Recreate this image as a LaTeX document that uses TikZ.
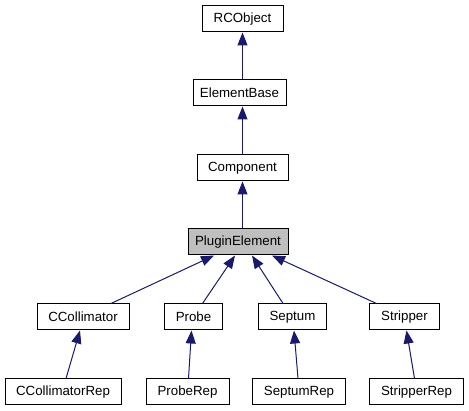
\documentclass[tikz,border=0pt]{standalone}
\usepackage{fontspec}
\setmainfont{Liberation Sans}
\usetikzlibrary{arrows.meta}
\definecolor{edgeblue}{HTML}{191970}
\definecolor{boxgray}{HTML}{BFBFBF}
\tikzset{
  cls/.style={draw=black, line width=1pt, fill=white, minimum height=26pt, inner sep=0pt,
    font=\fontsize{13.3}{16}\selectfont},
  edge/.style={draw=edgeblue, line width=1pt, -{Triangle[length=13pt,width=10pt]}},
}
\begin{document}
\begin{tikzpicture}[x=1pt,y=-1pt]
\useasboundingbox (0,0) rectangle (469,411);
\node[cls, minimum width=81pt] (rc) at (242.5,19) {RCObject};
\node[cls, minimum width=93pt] (eb) at (239.5,93) {ElementBase};
\node[cls, minimum width=91pt] (co) at (242.5,168) {Component};
\node[cls, minimum width=100pt, fill=boxgray] (pe) at (238,242) {PluginElement};
\node[cls, minimum width=92pt] (cc) at (83,317) {CCollimator};
\node[cls, minimum width=58pt] (pr) at (193.5,317) {Probe};
\node[cls, minimum width=68pt] (se) at (292.5,317) {Septum};
\node[cls, minimum width=70pt] (st) at (404.5,317) {Stripper};
\node[cls, minimum width=116pt] (ccr) at (63,392) {CCollimatorRep};
\node[cls, minimum width=83pt] (prr) at (187.5,392) {ProbeRep};
\node[cls, minimum width=93pt] (ser) at (299,392) {SeptumRep};
\node[cls, minimum width=94pt] (str) at (416.5,392) {StripperRep};

\draw[edge] (eb.north -| rc.south) -- (rc.south);
\draw[edge] (co.north) -- (co.north |- eb.south);
\draw[edge] (pe.north -| co.south) -- (co.south);

\draw[edge] ([xshift=28pt]cc.north) -- ([xshift=-24pt]pe.south);
\draw[edge] ([xshift=9pt]pr.north) -- ([xshift=-3pt]pe.south);
\draw[edge] ([xshift=-9.5pt]se.north) -- ([xshift=14pt]pe.south);
\draw[edge] ([xshift=-28pt]st.north) -- ([xshift=34pt]pe.south);

\draw[edge] ([xshift=3pt]ccr.north) -- ([xshift=-3pt]cc.south);
\draw[edge] ([xshift=1pt]prr.north) -- ([xshift=-2pt]pr.south);
\draw[edge] ([xshift=-1pt]ser.north) -- ([xshift=1.5pt]se.south);
\draw[edge] ([xshift=-2pt]str.north) -- ([xshift=2pt]st.south);
\end{tikzpicture}
\end{document}
